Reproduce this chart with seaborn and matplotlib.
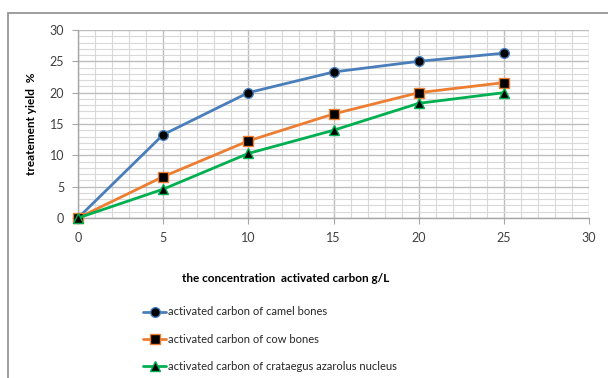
import matplotlib
matplotlib.use("Agg")
import matplotlib.pyplot as plt
import seaborn as sns
import pandas as pd
from matplotlib.ticker import MultipleLocator
from matplotlib.patches import Rectangle

concentration = [0, 5, 10, 15, 20, 25]
camel = [0, 13.3, 20.0, 23.3, 25.0, 26.3]
cow = [0, 6.6, 12.3, 16.6, 20.0, 21.6]
crataegus = [0, 4.6, 10.3, 14.0, 18.3, 20.0]
series_names = ["activated carbon of camel bones",
                "activated carbon of cow bones",
                "activated carbon of crataegus azarolus nucleus"]

sns.set_style("white")
plt.rcParams['font.family'] = ['Lato', 'DejaVu Sans']

fig = plt.figure(figsize=(6.08, 3.78), dpi=100)
ax = fig.add_axes([78/608, 1-218/378, (589-78)/608, (218-30)/378])

# outer frame
fig.patches.append(Rectangle((8/608, -0.05), 1.0, 1-13/378+0.05, transform=fig.transFigure,
                             fill=False, edgecolor='#8c8c8c', linewidth=1.2))

colors = ['#4a7ebb', '#ed7d31', '#00b050']
markers = ['o', 's', '^']
msizes = [7, 7, 7]
for vals, name, c, m, ms in zip([camel, cow, crataegus], series_names, colors, markers, msizes):
    df = pd.DataFrame({"x": concentration, "y": vals})
    sns.lineplot(data=df, x="x", y="y", ax=ax, color=c, linewidth=2, marker=m,
                 markersize=ms, markerfacecolor='black', markeredgecolor=c,
                 markeredgewidth=1, label=name, zorder=3, clip_on=False)

ax.set_xlim(0, 30)
ax.set_ylim(0, 30)
ax.xaxis.set_major_locator(MultipleLocator(5))
ax.yaxis.set_major_locator(MultipleLocator(5))
ax.xaxis.set_minor_locator(MultipleLocator(1))
ax.yaxis.set_minor_locator(MultipleLocator(1))
ax.grid(which='major', color='#bdbdbd', linewidth=1.0)
ax.grid(which='minor', color='#d9d9d9', linewidth=0.8)
ax.set_axisbelow(True)
for s in ['top', 'right']:
    ax.spines[s].set_visible(False)
for s in ['left', 'bottom']:
    ax.spines[s].set_color('#a6a6a6')
    ax.spines[s].set_linewidth(1)
ax.tick_params(which='major', length=4, color='#a6a6a6', labelsize=9, labelcolor='#404040',
               bottom=True, left=True, pad=6)
ax.tick_params(which='minor', length=0)

ax.set_xlabel("the concentration  activated carbon g/L", fontsize=8.5, fontweight='bold',
              color='black')
ax.xaxis.set_label_coords((286-78)/511, -(273-218)/188)
ax.set_ylabel("treatement yield  %", fontsize=8.5, fontweight='bold', color='black')
ax.yaxis.set_label_coords(-(78-37)/511, 0.5)

handles, labels = ax.get_legend_handles_labels()
ax.legend(handles, labels, loc='upper left', bbox_to_anchor=(139/608, 1-302/378),
          bbox_transform=fig.transFigure, frameon=False, fontsize=8,
          handlelength=2.0, handletextpad=0.2, labelspacing=1.45, borderaxespad=0)

fig.savefig("out.png", dpi=100)
